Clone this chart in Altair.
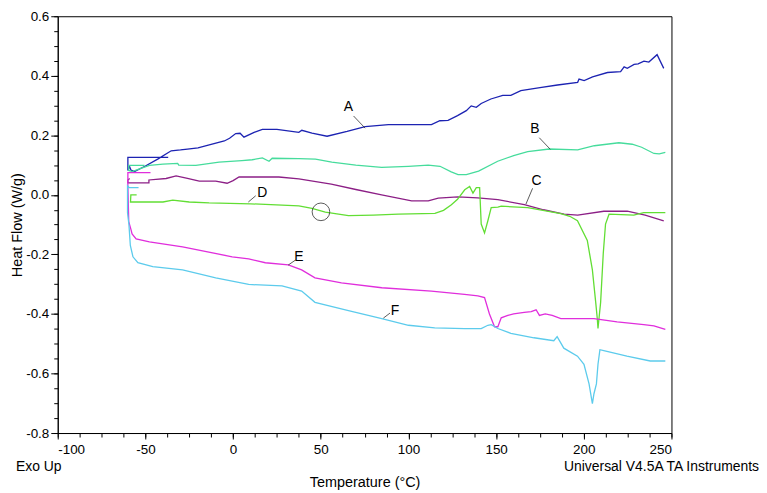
import altair as alt
import pandas as pd

# ---------------- data ----------------
names = ["A", "B", "C", "D", "E", "F"]
colors = ["#1c23b2", "#46dc9c", "#8c1f86", "#62de34", "#e02edc", "#5ccbec"]

A_x = [-37.0, -60.0, -60.0, -59.0, -58.2, -56.2, -50, -43, -35.3, -30, -26, -20, -13.6, -5, -2, 1.5, 4, 6.2, 12,
       16.7, 25, 37.5, 39.2, 45, 53.6, 65, 75.3, 88.6, 113.1, 117.9, 122.6, 128, 133.0, 135.8, 138.7, 141.5, 147,
       153.8, 158.4, 164.1, 175, 185, 196.5, 197.3, 200.2, 205, 213.5, 221, 223, 224.8, 228.7, 231, 234.3, 237.1,
       241.8, 245.6]
A_y = [0.126, 0.126, 0.082, 0.095, 0.083, 0.078, 0.097, 0.12, 0.148, 0.151, 0.154, 0.158, 0.168, 0.181, 0.19, 0.206,
       0.207, 0.194, 0.21, 0.220, 0.220, 0.210, 0.217, 0.207, 0.197, 0.213, 0.229, 0.236, 0.236, 0.249, 0.250, 0.266,
       0.283, 0.299, 0.294, 0.307, 0.322, 0.334, 0.334, 0.350, 0.360, 0.369, 0.378, 0.389, 0.384, 0.396, 0.411, 0.414,
       0.430, 0.425, 0.438, 0.440, 0.449, 0.446, 0.471, 0.425]

B_x = [-50.5, -59.5, -59.5, -57.5, -53, -47.7, -40, -31.6, -31, -21.2, -8, 5, 10.9, 16.7, 20.5, 22.3, 37.5, 47, 56.3,
       70, 84.7, 100, 111.3, 118, 124.4, 128.3, 133, 140, 150.9, 160, 168.0, 180.3, 196.5, 206, 220, 227.6, 233, 240,
       243, 246.5]
B_y = [0.099, 0.099, 0.082, 0.078, 0.088, 0.099, 0.103, 0.106, 0.100, 0.099, 0.110, 0.115, 0.118, 0.124, 0.113,
       0.123, 0.122, 0.120, 0.110, 0.100, 0.092, 0.096, 0.100, 0.096, 0.077, 0.068, 0.068, 0.080, 0.113, 0.132, 0.145,
       0.154, 0.151, 0.165, 0.175, 0.170, 0.160, 0.139, 0.138, 0.143]

C_x = [-59.0, -60.0, -60.0, -48, -48, -44, -38.2, -32.5, -26, -19.3, -9.9, -3.4, 0, 3.4, 26.1, 37.5, 56, 70, 84.7,
       101.8, 111.3, 117, 128.2, 139.5, 151, 166.1, 177, 188.8, 196.5, 211.4, 224.8, 235, 245.6]
C_y = [0.055, 0.050, 0.040, 0.040, 0.050, 0.052, 0.055, 0.064, 0.055, 0.046, 0.046, 0.039, 0.048, 0.060, 0.060,
       0.054, 0.036, 0.018, 0.0, -0.020, -0.020, -0.011, -0.007, -0.010, -0.016, -0.033, -0.050, -0.065, -0.068,
       -0.055, -0.055, -0.068, -0.087]

D_x = [-55.0, -58.3, -58.5, -40, -34.4, -25, -13.7, 10, 37.5, 45, 52.6, 65.8, 80, 94.2, 115.1, 120, 124.5, 128,
       132.1, 134.9, 136.8, 138.7, 140.6, 141.5, 143.4, 145.3, 147.2, 151.0, 152.9, 168.0, 186.9, 192, 196.4, 202.0,
       204.9, 206.8, 207.7, 208.1, 209.6, 211.1, 212.4, 214.4, 228.5, 234.2, 246.5]
D_y = [0.0, 0.0, -0.024, -0.024, -0.018, -0.024, -0.027, -0.030, -0.037, -0.045, -0.058, -0.070, -0.068, -0.065,
       -0.062, -0.052, -0.033, -0.015, 0.017, 0.028, 0.006, 0.024, 0.024, -0.098, -0.128, -0.087, -0.043, -0.041,
       -0.038, -0.043, -0.063, -0.072, -0.087, -0.153, -0.252, -0.361, -0.416, -0.449, -0.361, -0.197, -0.098,
       -0.065, -0.068, -0.060, -0.060]

E_x = [-47.1, -60.0, -60.0, -59.5, -58.3, -57.6, -55.3, -47.7, -28.8, -0.5, 8.9, 18.4, 31.5, 39.1, 46.7, 61.8, 84.8,
       113.1, 132.0, 139.6, 143.4, 146.2, 149.1, 151, 152.9, 156.7, 160, 166, 170, 172.8, 174.7, 178, 182, 186.9,
       205.8, 219.0, 234.2, 240, 246.5]
E_y = [0.075, 0.075, 0.03, -0.09, -0.115, -0.131, -0.148, -0.158, -0.175, -0.208, -0.215, -0.228, -0.235, -0.252,
       -0.279, -0.296, -0.312, -0.323, -0.334, -0.339, -0.345, -0.400, -0.443, -0.443, -0.413, -0.405, -0.400,
       -0.395, -0.392, -0.386, -0.405, -0.400, -0.405, -0.416, -0.416, -0.427, -0.436, -0.440, -0.452]

F_x = [-53.9, -59.2, -60.2, -60.2, -59.4, -58.6, -57.1, -54.3, -45.8, -28.8, -9.9, 8.9, 27.9, 39.1, 46.7, 65.8, 84.8,
       100, 115, 132.0, 141.5, 145.3, 147.2, 151, 158.4, 171.6, 182.9, 184.8, 188.6, 196.4, 200.1, 203, 204.9, 205.8,
       207.2, 208.1, 209.2, 211.4, 224.6, 237.9, 246.5]
F_y = [0.024, 0.024, 0.030, -0.060, -0.10, -0.170, -0.208, -0.228, -0.241, -0.252, -0.279, -0.301, -0.306, -0.323,
       -0.361, -0.389, -0.416, -0.438, -0.447, -0.449, -0.449, -0.438, -0.436, -0.449, -0.465, -0.480, -0.490, -0.476,
       -0.515, -0.542, -0.569, -0.635, -0.701, -0.668, -0.635, -0.569, -0.520, -0.523, -0.542, -0.558, -0.558]

# curve labels and their leader lines
lab_text = ["A", "B", "C", "D", "E", "F"]
lab_x = [65.8, 172.1, 173.1, 16.7, 37.5, 92.4]
lab_y = [0.296, 0.221, 0.046, 0.007, -0.208, -0.389]
lead_x1 = [68.7, 174.6, 170.8, 12.9, 35.6, 89.5]
lead_y1 = [0.265, 0.192, 0.022, -0.003, -0.219, -0.397]
lead_x2 = [75.3, 180.9, 167.0, 8.7, 31.4, 85.7]
lead_y2 = [0.224, 0.153, -0.031, -0.024, -0.236, -0.414]

circle_x = [50.1]
circle_y = [-0.057]

x_major = [-100, -50, 0, 50, 100, 150, 200, 250]
y_major = [-0.8, -0.6, -0.4, -0.2, 0.0, 0.2, 0.4, 0.6]
x_minor = [-100 + 12.5 * k for k in range(29)]
y_minor = [round(-0.8 + 0.05 * k, 2) for k in range(29)]

# ---------------- build tables ----------------
series = {"A": (A_x, A_y), "B": (B_x, B_y), "C": (C_x, C_y),
          "D": (D_x, D_y), "E": (E_x, E_y), "F": (F_x, F_y)}
rows = []
for name in names:
    xs, ys = series[name]
    for i, (xv, yv) in enumerate(zip(xs, ys)):
        rows.append({"curve": name, "T": xv, "HF": yv, "i": i})
df = pd.DataFrame(rows)

labels = pd.DataFrame({"t": lab_text, "x": lab_x, "y": lab_y,
                       "x1": lead_x1, "y1": lead_y1, "x2": lead_x2, "y2": lead_y2})
circ = pd.DataFrame({"x": circle_x, "y": circle_y})

FONT = "Liberation Sans"
W, H = 617, 419
xscale = alt.Scale(domain=[-100, 250], nice=False, zero=False)
yscale = alt.Scale(domain=[-0.8, 0.6], nice=False, zero=False)

neg_fmt_y = "datum.value < 0 ? '-' + format(-datum.value, '.1f') : format(datum.value, '.1f')"
neg_fmt_x = "datum.value < 0 ? '-' + format(-datum.value, 'd') : format(datum.value, 'd')"

lines = alt.Chart(df).mark_line(strokeWidth=1.3).encode(
    x=alt.X("T:Q", scale=xscale,
            axis=alt.Axis(values=x_major, labelExpr=neg_fmt_x, tickSize=6, labelPadding=4,
                          title="Temperature (°C)", titleFontSize=14.5, titleFontWeight="normal",
                          titleBaseline="middle", titleY=50, labelFontSize=13.5, orient="bottom")),
    y=alt.Y("HF:Q", scale=yscale,
            axis=alt.Axis(values=y_major, labelExpr=neg_fmt_y, tickSize=7, labelPadding=2,
                          title="Heat Flow (W/g)", titleFontSize=14.5, titleFontWeight="normal",
                          titleX=-40, titleY=H / 2, titleBaseline="middle", labelFontSize=13.5,
                          orient="left")),
    color=alt.Color("curve:N", scale=alt.Scale(domain=names, range=colors), legend=None),
    order=alt.Order("i:Q"),
)

minor = alt.Chart(circ).mark_point(shape="circle", size=314, filled=False, stroke="#333333",
                                   strokeWidth=0.8, opacity=1).encode(
    x=alt.X("x:Q", scale=xscale,
            axis=alt.Axis(values=x_minor, labels=False, domain=False, tickSize=4, title=None,
                          orient="bottom", grid=False)),
    y=alt.Y("y:Q", scale=yscale,
            axis=alt.Axis(values=y_minor, labels=False, domain=False, tickSize=4, title=None,
                          orient="left", grid=False)),
)

leaders = alt.Chart(labels).mark_rule(color="#333333", strokeWidth=0.8).encode(
    x=alt.X("x1:Q", scale=xscale, axis=None),
    y=alt.Y("y1:Q", scale=yscale, axis=None),
    x2="x2:Q", y2="y2:Q",
)

texts = alt.Chart(labels).mark_text(font=FONT, fontSize=14, color="black").encode(
    x=alt.X("x:Q", scale=xscale, axis=None),
    y=alt.Y("y:Q", scale=yscale, axis=None),
    text="t:N",
)

exo = alt.Chart(pd.DataFrame({"t": ["Exo Up"]})).mark_text(
    font=FONT, fontSize=14, align="left", baseline="middle", color="black").encode(
    x=alt.value(-42), y=alt.value(453), text="t:N")

univ = alt.Chart(pd.DataFrame({"t": ["Universal V4.5A TA Instruments"]})).mark_text(
    font=FONT, fontSize=14, align="right", baseline="middle", color="black").encode(
    x=alt.value(705), y=alt.value(453), text="t:N")

chart = alt.layer(lines, minor, leaders, texts, exo, univ).resolve_axis(
    x="independent", y="independent"
).properties(
    width=W, height=H,
    autosize=alt.AutoSizeParams(type="none"),
    padding={"left": 50, "top": 7, "right": 88, "bottom": 58},
).configure_view(stroke="black", strokeWidth=1).configure_axis(
    domainColor="black", tickColor="black", labelColor="black", titleColor="black",
    labelFont=FONT, titleFont=FONT, grid=False, domainWidth=1, tickWidth=1
)

chart.save("out.html", embed_options={"renderer": "svg", "actions": False})
